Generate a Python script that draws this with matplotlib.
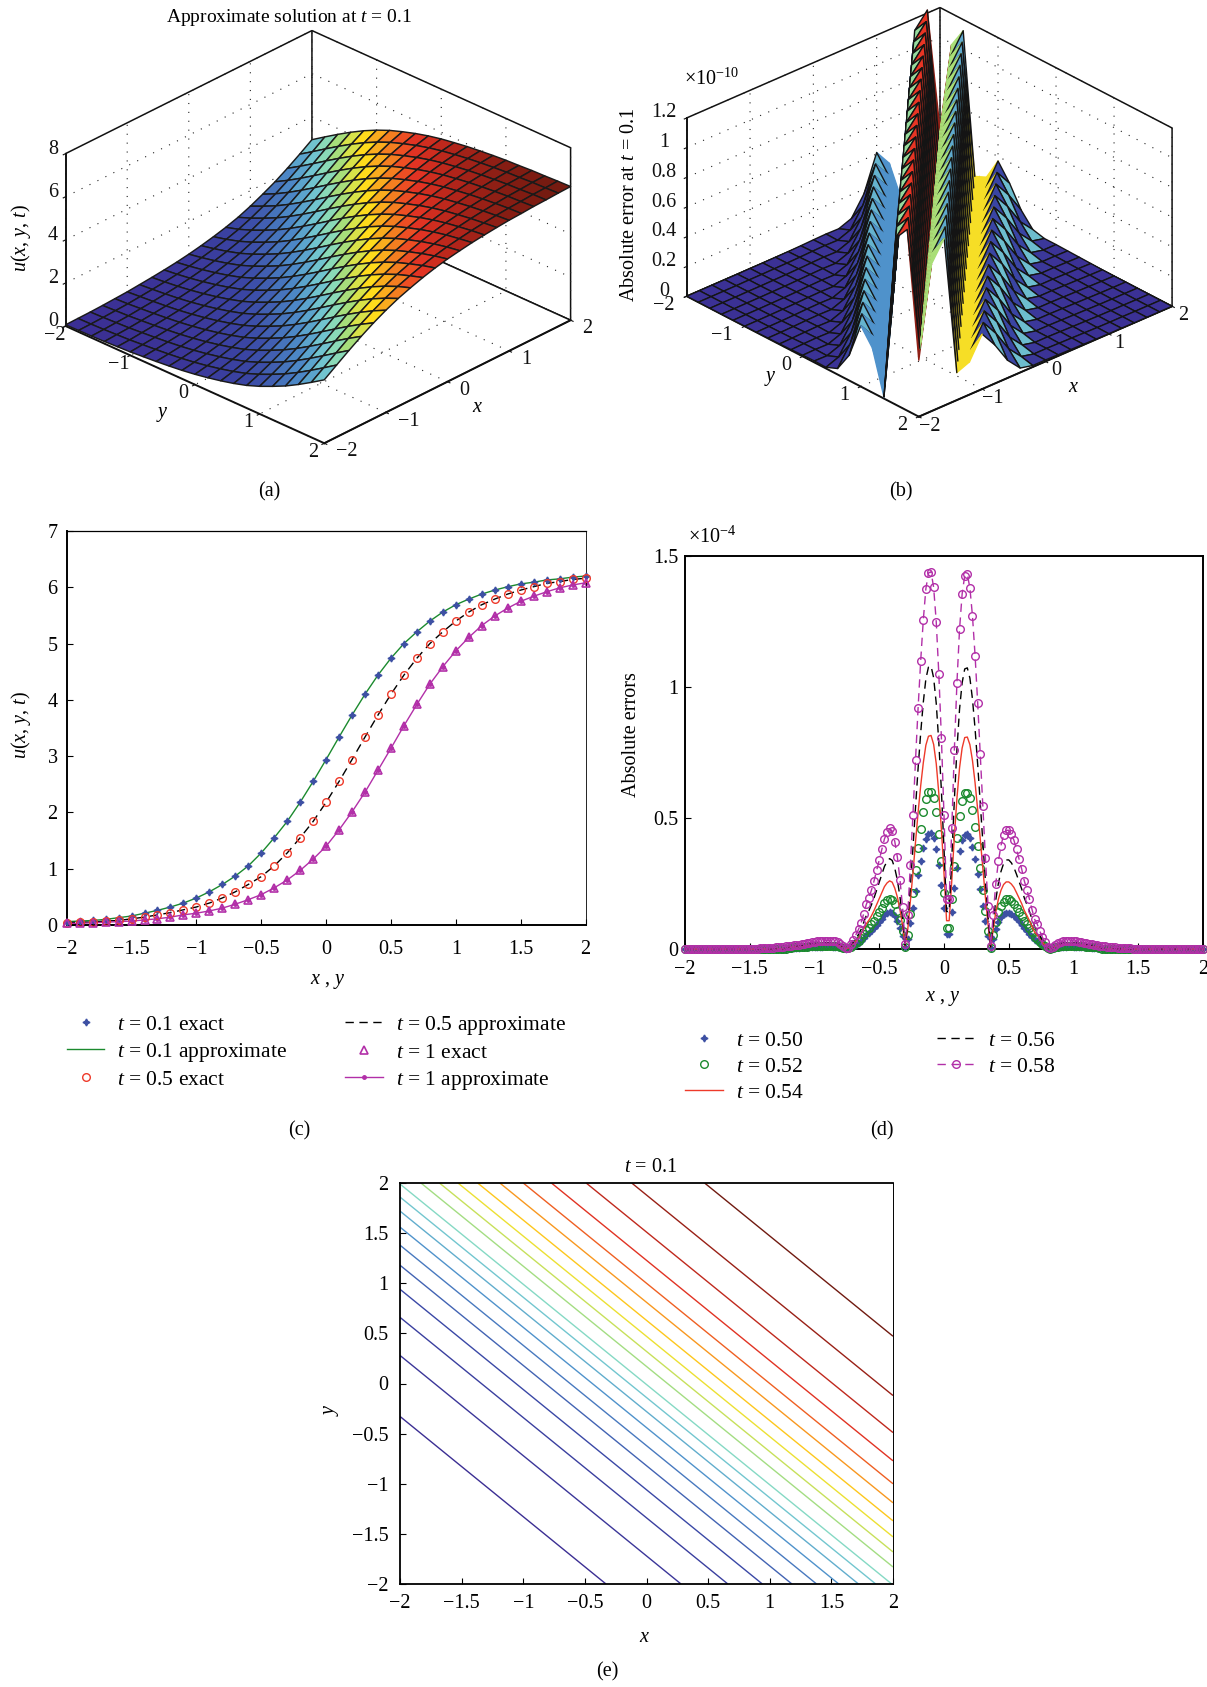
import numpy as np
import matplotlib
matplotlib.use("Agg")
import matplotlib.pyplot as plt
from matplotlib.colors import LinearSegmentedColormap, to_rgba

plt.rcParams['font.family'] = ['Liberation Serif', 'DejaVu Serif']
plt.rcParams['mathtext.fontset'] = 'custom'
plt.rcParams['mathtext.rm'] = 'Liberation Serif'
plt.rcParams['mathtext.it'] = 'Liberation Serif:italic'
plt.rcParams['mathtext.bf'] = 'Liberation Serif:bold'
plt.rcParams['grid.color'] = '#222222'
plt.rcParams['grid.linewidth'] = 0.8
plt.rcParams['grid.linestyle'] = (0, (1, 7))

W, H = 1207, 1687
FS = 14.5
LEG_FS = 15.5

# panel (c): u read at x, y = -2 ... 2 in steps of 0.1
u_t01 = [0.06, 0.07, 0.08, 0.10, 0.13, 0.16, 0.21, 0.26, 0.32, 0.39, 0.48,
         0.59, 0.72, 0.87, 1.05, 1.28, 1.55, 1.84, 2.18, 2.55, 2.94,
         3.34, 3.73, 4.10, 4.44, 4.74, 5.00, 5.21, 5.40, 5.56, 5.69,
         5.79, 5.88, 5.95, 6.01, 6.06, 6.09, 6.13, 6.15, 6.18, 6.20]
u_t05 = [0.04, 0.05, 0.05, 0.07, 0.08, 0.11, 0.14, 0.18, 0.22, 0.27, 0.32,
         0.39, 0.48, 0.59, 0.72, 0.86, 1.05, 1.28, 1.55, 1.84, 2.18,
         2.55, 2.94, 3.34, 3.73, 4.10, 4.44, 4.74, 5.00, 5.21, 5.40,
         5.56, 5.69, 5.79, 5.88, 5.95, 6.01, 6.07, 6.10, 6.14, 6.16]
u_t1 = [0.03, 0.03, 0.04, 0.05, 0.06, 0.07, 0.09, 0.11, 0.14, 0.18, 0.21,
        0.25, 0.30, 0.37, 0.45, 0.54, 0.66, 0.80, 0.97, 1.17, 1.40,
        1.69, 2.01, 2.36, 2.75, 3.14, 3.54, 3.92, 4.28, 4.59, 4.87,
        5.11, 5.32, 5.49, 5.63, 5.75, 5.84, 5.92, 5.99, 6.04, 6.08]

# panel (d): errors (x 1e-4), steps of 0.02, zero outside the listed range
err_050 = [.003, .004, .004, .005, .005, .006, .006, .007, .007, .008, .008, .009, .009, .009, .010, .010, .010, .009, .009, .008, .006, .004, .001,
           .002, .006, .011, .017, .023, .031, .041, .052, .060, .069, .080, .092, .104, .116, .129, .136, .141, .138, .125, .107, .081, .049, .006,
           .04, .098, .156, .22, .282, .337, .384, .421, .439, .441, .422, .383, .321, .246, .156,
           .058, .058, .141, .233, .311, .373, .415, .436, .438, .422, .389, .343, .288, .228, .166, .106, .051, .003, .04, .077, .103, .121, .133, .139, .139, .134, .127, .116, .105, .093, .08, .069, .058, .046, .035, .029, .021, .014, .008, .002, .001,
           .002, .005, .007, .008, .009, .009, .010, .010, .009, .009, .009, .008, .007, .007, .006, .005, .004, .004, .003]
err_052 = [.005, .005, .006, .006, .007, .008, .008, .009, .010, .011, .011, .012, .013, .013, .013, .013, .013, .013, .012, .011, .008, .005, .002,
           .002, .008, .015, .023, .031, .042, .056, .071, .081, .094, .108, .125, .142, .158, .175, .186, .192, .188, .171, .146, .111, .067, .008,
           .054, .133, .213, .30, .384, .459, .523, .573, .598, .60, .575, .521, .438, .336, .213,
           .079, .079, .192, .317, .424, .508, .565, .594, .596, .575, .53, .467, .392, .311, .227, .144, .069, .004, .054, .104, .14, .165, .181, .189, .189, .183, .173, .158, .143, .127, .108, .095, .079, .063, .047, .04, .028, .019, .011, .003, .001,
           .003, .007, .009, .011, .013, .013, .013, .013, .013, .013, .012, .011, .010, .009, .008, .007, .006, .006, .005]
err_054 = [.006, .007, .008, .008, .010, .010, .011, .012, .014, .015, .015, .016, .017, .018, .018, .018, .018, .018, .016, .015, .011, .007, .002,
           .003, .011, .020, .031, .042, .057, .076, .096, .110, .127, .147, .170, .192, .215, .238, .252, .260, .255, .232, .198, .150, .091, .011,
           .074, .181, .289, .408, .521, .623, .710, .778, .812, .815, .781, .708, .594, .456, .289,
           .108, .108, .260, .430, .576, .691, .767, .807, .809, .780, .719, .634, .532, .422, .308, .196, .094, .006, .074, .142, .190, .224, .246, .256, .256, .248, .235, .215, .194, .173, .147, .128, .108, .085, .064, .054, .038, .025, .015, .005, .001,
           .005, .009, .012, .015, .017, .018, .018, .018, .018, .017, .016, .015, .014, .012, .011, .010, .009, .008, .007]
err_056 = [.008, .009, .011, .011, .013, .014, .015, .017, .018, .020, .020, .022, .023, .023, .024, .024, .024, .023, .022, .020, .015, .009, .003,
           .004, .015, .026, .041, .056, .075, .101, .128, .146, .169, .195, .225, .255, .285, .315, .334, .345, .338, .308, .263, .199, .120, .015,
           .098, .24, .383, .54, .69, .825, .941, 1.031, 1.076, 1.08, 1.035, .938, .788, .604, .383,
           .143, .143, .345, .57, .763, .915, 1.016, 1.069, 1.073, 1.034, .953, .84, .705, .559, .408, .26, .125, .008, .098, .188, .251, .296, .326, .34, .34, .329, .311, .285, .257, .229, .195, .17, .143, .113, .085, .071, .051, .034, .02, .006, .002,
           .006, .012, .017, .020, .023, .023, .024, .024, .023, .023, .021, .020, .018, .017, .015, .014, .012, .011, .010]
err_058 = [.000, .001, .001, .001, .002, .002, .003, .003, .004, .005, .006, .007, .008, .009, .010,
           .011, .012, .014, .015, .017, .018, .020, .022, .024, .026, .027, .029, .030, .031, .032, .032, .032, .031, .029, .026, .020, .012, .004,
           .005, .02, .035, .055, .075, .10, .135, .17, .195, .225, .26, .30, .34, .38, .42, .445, .46, .45, .41, .35, .265, .16, .02,
           .13, .32, .51, .72, .92, 1.10, 1.255, 1.375, 1.435, 1.44, 1.38, 1.25, 1.05, .805, .51,
           .19, .19, .46, .76, 1.017, 1.22, 1.355, 1.425, 1.43, 1.378, 1.27, 1.12, .94, .745, .544, .346, .166, .01, .13, .25, .335, .395, .435, .453, .453, .438, .415, .38, .343, .305, .26, .227, .19, .15, .113, .095, .068, .045, .027, .008, .002,
           .008, .016, .022, .027, .030, .031, .032, .032, .031, .030, .028, .026, .024, .022, .020, .018, .016, .014, .013,
           .011, .010, .009, .008, .007, .006, .005, .004, .003, .003, .002, .002, .001, .001, .000]

# panel (b): error (x 1e-10) for x + y = -4 ... 4 in steps of 0.2
err_diag = [.000, .000, .000, .000, .000, .001, .001, .002, .003, .005, .008, .010,
            .008, .04, .17, .41, .30, .01, 1.12, 1.22, .38, .99, 1.125, .185, .22, .37, .26, .12, .03, .01,
            .010, .008, .006, .004, .002, .001, .001, .000, .000, .000, .000]
# colour position of each diagonal of faces, i + j = 0 ... 38
strip_level = [.02, .02, .02, .02, .02, .02, .02, .02, .02, .03, .03, .03,
               .03, .12, .38, .32, .32, .50, .83, .96, .54, .36, .645, .645,
               .14, .40, .14, .40, .06, .03, .03, .02, .02, .02, .02, .02,
               .02, .02, .02]
# diagonals drawn as clean sheets, with no mesh lines
clean_strips = [15, 16, 19, 20, 22, 23]

# panel (e): u values of the contour lines
contour_levels = [.345, .642, .924, 1.211, 1.523, 1.811, 2.112, 2.402, 2.667, 2.92,
                  3.28, 3.574, 3.86, 4.151, 4.455, 4.74, 5.03, 5.315, 5.612, 5.905]

c_ticks = [-2, -1.5, -1, -0.5, 0, 0.5, 1, 1.5, 2]
c_tick_labels = ['\u22122', '\u22121.5', '\u22121', '\u22120.5', '0', '0.5', '1', '1.5', '2']
surf_ticks = [-2, -1, 0, 1, 2]
surf_tick_labels = ['\u22122', '\u22121', '0', '1', '2']

BLUE = '#3D50A3'
GREEN = '#1B8A2E'
RED = '#EE3A2A'
MAGENTA = '#B22FA8'
DASH = (0, (6, 4))
STAR = (4, 1, 0)

jet_soft = LinearSegmentedColormap.from_list('jet_soft', [
    (0.00, '#3B2E93'), (0.15, '#3A47A5'), (0.32, '#4F93CC'), (0.45, '#7FD8D0'),
    (0.54, '#A8DE78'), (0.61, '#DDE244'), (0.66, '#FFDD1C'), (0.74, '#F8991F'),
    (0.83, '#E93524'), (0.92, '#B0241A'), (1.00, '#701A10')])


def px_axes(left, top, right, bottom, **kw):
    return fig.add_axes([left / W, 1 - bottom / H, (right - left) / W, (bottom - top) / H], **kw)


def px_text(x, y, s, **kw):
    kw.setdefault('ha', 'center')
    kw.setdefault('va', 'center')
    kw.setdefault('fontsize', FS)
    fig.text(x / W, 1 - y / H, s, **kw)


def pad_zeros(vals):
    n = (201 - len(vals)) // 2
    return np.r_[np.zeros(n), vals, np.zeros(201 - n - len(vals))]


def setup_3d(ax, zlim, zticks, zlabels, elev, azim, zratio, z_pad, x_ha, y_ha):
    ax.set_proj_type('ortho')
    ax.set_facecolor('none')
    ax.view_init(elev=elev, azim=azim)
    ax.set_box_aspect((1, 1, zratio))
    ax.set_xlim(-2, 2, view_margin=0)
    ax.set_ylim(2, -2, view_margin=0)
    ax.set_zlim(zlim[0], zlim[1], view_margin=0)
    ax.set_xticks(surf_ticks, surf_tick_labels, va='baseline', ha=x_ha)
    ax.set_yticks(surf_ticks, surf_tick_labels, va='baseline', ha=y_ha)
    ax.set_zticks(zticks, zlabels, va='baseline')
    ax.tick_params(axis='both', labelsize=FS, pad=1, width=0.9, colors='#111111')
    ax.tick_params(axis='z', pad=z_pad)
    for a in (ax.xaxis, ax.yaxis, ax.zaxis):
        a.set_pane_color('white')
        a.pane.set_edgecolor('#111111')
        a.pane.set_linewidth(1.1)
        a.line.set_color('#111111')
        a.line.set_linewidth(1.4)
        a._axinfo['tick']['inward_factor'] = 0.12
        a._axinfo['tick']['outward_factor'] = 0.0


fig = plt.figure(figsize=(W / 100, H / 100), dpi=100)

gx = np.linspace(-2, 2, 21)
X, Y = np.meshgrid(gx, gx, indexing='ij')
idx = np.add.outer(np.arange(21), np.arange(21))
face_idx = np.add.outer(np.arange(20), np.arange(20))
u_surface = np.array(u_t01)[idx]

# (a)
ax_a = px_axes(48, -19, 574, 507, projection='3d')
setup_3d(ax_a, (0, 8), [0, 2, 4, 6, 8], ['0', '2', '4', '6', '8'], 28.4, 223.6, 0.549, -3, 'left', 'center')
surf_a = ax_a.plot_surface(X, Y, u_surface, facecolors=jet_soft(u_surface[:-1, :-1] / 6.2),
                           rstride=1, cstride=1, shade=False, linewidth=1.05)
surf_a.set_edgecolor('#1a1a1a')
px_text(289, 18, 'Approximate solution at $t$ = 0.1', fontsize=14)
px_text(21, 238, '$u$($x$, $y$, $t$)', rotation=90)
px_text(162, 414, '$y$')
px_text(478, 407, '$x$')
px_text(269, 492, '(a)')

# (b)
ax_b = px_axes(667, -36.5, 1178, 474.5, projection='3d')
setup_3d(ax_b, (0, 1.2), [0, 0.2, 0.4, 0.6, 0.8, 1, 1.2],
         ['0', '0.2', '0.4', '0.6', '0.8', '1', '1.2'], 28.4, 227.5, 0.59, 1, 'center', 'right')
err_surface = np.array(err_diag)[idx]
face_colors = jet_soft(np.array(strip_level)[face_idx])
edge_colors = np.where(np.isin(face_idx, clean_strips)[..., None], face_colors, to_rgba('#141414'))
surf_b = ax_b.plot_surface(X, Y, err_surface, facecolors=face_colors, rstride=1, cstride=1,
                           shade=False, linewidth=1.0)
surf_b.set_edgecolor(edge_colors.reshape(-1, 4))
px_text(712, 79, '$\\times 10^{-10}$')
px_text(630, 205, 'Absolute error at $t$ = 0.1', rotation=90)
px_text(770, 379, '$y$')
px_text(1074, 388, '$x$')
px_text(901, 492, '(b)')

# (c)
xc = np.linspace(-2, 2, 41)
ax_c = px_axes(66.7, 531, 585.5, 925)
ax_c.plot(xc, u_t01, ls='none', marker=STAR, ms=5, color=BLUE, label='$t$ = 0.1 exact', clip_on=False, zorder=3)
ax_c.plot(xc, u_t01, color=GREEN, lw=1.0, label='$t$ = 0.1 approximate', clip_on=False)
ax_c.plot(xc, u_t05, ls='none', marker='o', ms=5.5, mfc='none', mew=1.0, color=RED, label='$t$ = 0.5 exact', clip_on=False, zorder=3)
ax_c.plot(xc, u_t05, color='black', ls=DASH, lw=1.0, label='$t$ = 0.5 approximate', clip_on=False)
ax_c.plot(xc, u_t1, ls='none', marker='^', ms=6, mfc='none', mew=1.2, color=MAGENTA, label='$t$ = 1 exact', clip_on=False, zorder=3)
ax_c.plot(xc, u_t1, color=MAGENTA, lw=1.0, marker='o', ms=2.5, label='$t$ = 1 approximate', clip_on=False)
ax_c.set_xlim(-2, 2)
ax_c.set_ylim(0, 7)
ax_c.set_xticks(c_ticks, c_tick_labels)
ax_c.set_yticks(range(8))
ax_c.tick_params(direction='in', labelsize=FS, length=4, width=0.8, pad=6.5)
ax_c.tick_params(axis='x', pad=11)
ax_c.spines['left'].set_linewidth(1.4)
ax_c.spines['bottom'].set_linewidth(1.4)
ax_c.spines['top'].set_linewidth(0.9)
ax_c.spines['right'].set_linewidth(0.6)
ax_c.legend(loc='upper left', bbox_to_anchor=(0.0, -0.225), ncol=2, frameon=False, fontsize=LEG_FS,
            handlelength=1.75, handletextpad=0.6, columnspacing=2.7, labelspacing=0.28,
            borderpad=0, borderaxespad=0)
px_text(21, 725, '$u$($x$, $y$, $t$)', rotation=90)
px_text(328, 981, '$x$ , $y$')
px_text(299, 1131, '(c)')

# (d)
xd = np.linspace(-2, 2, 201)
ax_d = px_axes(685, 556, 1203, 949)
ax_d.plot(xd, pad_zeros(err_050), ls='none', marker=STAR, ms=5, color=BLUE, label='$t$ = 0.50', clip_on=False, zorder=3)
ax_d.plot(xd, pad_zeros(err_052), ls='none', marker='o', ms=5.5, mfc='none', mew=1.0, color=GREEN, label='$t$ = 0.52', clip_on=False, zorder=3)
ax_d.plot(xd, pad_zeros(err_054), color=RED, lw=1.0, label='$t$ = 0.54', clip_on=False, zorder=3)
ax_d.plot(xd, pad_zeros(err_056), color='black', ls=DASH, lw=1.0, label='$t$ = 0.56', clip_on=False, zorder=3)
ax_d.plot(xd, pad_zeros(err_058), color=MAGENTA, ls=DASH, lw=1.0, marker='o', ms=5.5, mfc='none', mew=1.0,
          label='$t$ = 0.58', clip_on=False, zorder=3)
ax_d.set_xlim(-2, 2)
ax_d.set_ylim(0, 1.5)
ax_d.set_xticks(c_ticks, c_tick_labels)
ax_d.set_yticks([0, 0.5, 1, 1.5], ['0', '0.5', '1', '1.5'])
ax_d.tick_params(direction='in', labelsize=FS, length=4, width=0.8, pad=5)
ax_d.tick_params(axis='x', pad=8)
for s in ax_d.spines.values():
    s.set_linewidth(1.4)
ax_d.legend(loc='upper left', bbox_to_anchor=(0.0, -0.2075), ncol=2, frameon=False, fontsize=LEG_FS,
            handlelength=1.75, handletextpad=0.6, columnspacing=6.2, labelspacing=0.28,
            borderpad=0, borderaxespad=0)
px_text(631, 735, 'Absolute errors', rotation=90)
px_text(943, 998, '$x$ , $y$')
px_text(712, 537, '$\\times 10^{-4}$')
px_text(882, 1131, '(d)')

# (e)
ax_e = px_axes(400, 1183, 893, 1584)
ax_e.contour(X, Y, u_surface, levels=contour_levels, cmap=jet_soft, linewidths=1.0)
ax_e.set_xlim(-2, 2)
ax_e.set_ylim(-2, 2)
ax_e.set_xticks(c_ticks, c_tick_labels)
ax_e.set_yticks(c_ticks, c_tick_labels)
ax_e.tick_params(direction='in', labelsize=FS, length=4, width=0.8, pad=8.5)
ax_e.tick_params(axis='x', pad=7)
ax_e.spines['left'].set_linewidth(1.3)
ax_e.spines['top'].set_linewidth(1.3)
ax_e.spines['bottom'].set_linewidth(1.3)
ax_e.spines['right'].set_linewidth(0.7)
px_text(651, 1168, '$t$ = 0.1')
px_text(331, 1410, '$y$', rotation=90)
px_text(645, 1638, '$x$')
px_text(607, 1672, '(e)')

fig.savefig('out.png', dpi=100)
